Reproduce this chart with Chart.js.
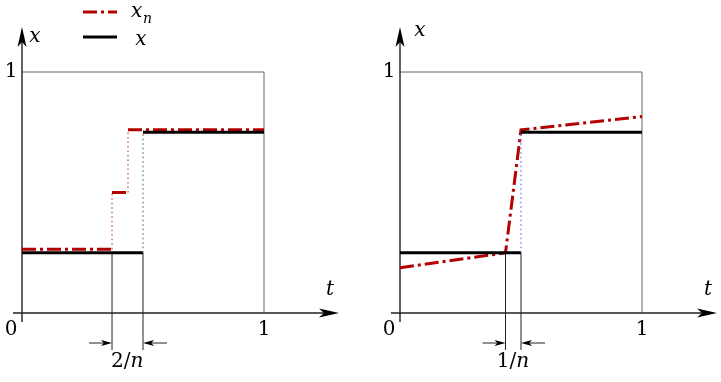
<!DOCTYPE html>
<html>
<head>
<meta charset="utf-8">
<script src="https://cdn.jsdelivr.net/npm/chart.js@4"></script>
<style>
  body { margin: 0; background: #fff; }
  .wrap { display: flex; width: 721px; height: 382px; }
  canvas { display: block; }
</style>
</head>
<body>
<div class="wrap">
  <canvas id="left" width="360" height="382"></canvas>
  <canvas id="right" width="361" height="382"></canvas>
</div>
<script>
// limit function x: step from 1/4 to 3/4 at t = 1/2
var limitT = [0, 0.5, 0.5, 1];
var limitX = [0.25, 0.25, 0.75, 0.75];

// left panel: piecewise constant x_n
var leftStepT = [0, 0.372, 0.438, 1];
var leftStepX = [0.265, 0.5, 0.76];

// right panel: piecewise linear x_n
var rightT = [0, 0.436, 0.5, 1];
var rightX = [0.188, 0.25, 0.76, 0.815];

// bracket marks under the axis
var leftMarks = [0.372, 0.5];
var rightMarks = [0.436, 0.5];
var leftMarkLabel = ["2/", "n"];
var rightMarkLabel = ["1/", "n"];

var red = "#b30000";
var serif = "'DejaVu Serif'";

function pts(ts, xs) {
    return ts.map(function(t, i) { return {x: t, y: xs[i]}; });
}

function lineSet(data, color, width, dash) {
    return {
        data: data,
        showLine: true,
        borderColor: color,
        borderWidth: width,
        borderDash: dash || [],
        pointRadius: 0,
        tension: 0,
        fill: false
    };
}

function arrowHead(ctx, x, y, dir, len, half) {
    ctx.beginPath();
    if (dir === "right") {
        ctx.moveTo(x, y);
        ctx.lineTo(x - len, y - half);
        ctx.lineTo(x - len * 0.75, y);
        ctx.lineTo(x - len, y + half);
    } else if (dir === "left") {
        ctx.moveTo(x, y);
        ctx.lineTo(x + len, y - half);
        ctx.lineTo(x + len * 0.75, y);
        ctx.lineTo(x + len, y + half);
    } else {
        ctx.moveTo(x, y);
        ctx.lineTo(x - half, y + len);
        ctx.lineTo(x, y + len * 0.75);
        ctx.lineTo(x + half, y + len);
    }
    ctx.closePath();
    ctx.fill();
}

// axes, frame, labels and dimension arrows
function framePlugin(marks, markLabel, showLegend) {
    return {
        id: "frame",
        beforeDatasetsDraw: function(chart) {
            var ctx = chart.ctx;
            var sx = chart.scales.x, sy = chart.scales.y;
            var x0 = sx.getPixelForValue(0), x1 = sx.getPixelForValue(1);
            var y0 = sy.getPixelForValue(0), y1 = sy.getPixelForValue(1);
            ctx.save();
            // thin frame at 1
            ctx.strokeStyle = "#666";
            ctx.lineWidth = 1;
            ctx.beginPath();
            ctx.moveTo(x0, y1); ctx.lineTo(x1, y1); ctx.lineTo(x1, y0);
            ctx.stroke();
            // axes
            ctx.strokeStyle = "#222";
            ctx.fillStyle = "#000";
            ctx.lineWidth = 1.4;
            ctx.beginPath();
            ctx.moveTo(x0 - 9, y0); ctx.lineTo(x0 + 310, y0);
            ctx.moveTo(x0, y0 + 9); ctx.lineTo(x0, 34);
            ctx.stroke();
            arrowHead(ctx, x0 + 317, y0, "right", 20, 4.5);
            arrowHead(ctx, x0, 27, "up", 20, 4.5);
            // marks down to the dimension arrows
            ctx.strokeStyle = "#222";
            ctx.lineWidth = 1;
            var my = sy.getPixelForValue(limitX[0]);
            var ma = sx.getPixelForValue(marks[0]), mb = sx.getPixelForValue(marks[1]);
            ctx.beginPath();
            ctx.moveTo(ma, my); ctx.lineTo(ma, y0 + 37);
            ctx.moveTo(mb, my); ctx.lineTo(mb, y0 + 37);
            ctx.moveTo(ma - 23, y0 + 30); ctx.lineTo(ma - 4, y0 + 30);
            ctx.moveTo(mb + 24, y0 + 30); ctx.lineTo(mb + 4, y0 + 30);
            ctx.stroke();
            arrowHead(ctx, ma, y0 + 30, "right", 11, 3);
            arrowHead(ctx, mb, y0 + 30, "left", 11, 3);
            // text
            ctx.fillStyle = "#000";
            ctx.textAlign = "center";
            ctx.textBaseline = "middle";
            ctx.font = "20px " + serif;
            ctx.fillText("0", x0 - 11, y0 + 17);
            ctx.fillText("1", x1, y0 + 17);
            ctx.fillText("1", x0 - 11, y1);
            var mid = (ma + mb) / 2;
            ctx.textAlign = "right";
            ctx.fillText(markLabel[0], mid + 3, y0 + 49);
            ctx.textAlign = "left";
            ctx.font = "italic 20px " + serif;
            ctx.fillText(markLabel[1], mid + 3, y0 + 49);
            ctx.textAlign = "center";
            ctx.fillText("t", x0 + 308, y0 - 23);
            ctx.fillText("x", showLegend ? x0 + 13 : x0 + 20, showLegend ? 37 : 31);
            if (showLegend) {
                ctx.fillText("x", 141, 40);
                ctx.textAlign = "left";
                ctx.fillText("x", 131, 12);
                ctx.font = "italic 14px " + serif;
                ctx.fillText("n", 143, 19);
                ctx.lineWidth = 3;
                ctx.strokeStyle = red;
                ctx.setLineDash([14, 4, 3, 4]);
                ctx.beginPath();
                ctx.moveTo(83, 12); ctx.lineTo(117, 12);
                ctx.stroke();
                ctx.setLineDash([]);
                ctx.strokeStyle = "#000";
                ctx.beginPath();
                ctx.moveTo(83, 37); ctx.lineTo(117, 37);
                ctx.stroke();
            }
            ctx.restore();
        }
    };
}

function makeOptions(xmin, width) {
    return {
        responsive: false,
        animation: false,
        clip: false,
        layout: {padding: 0},
        plugins: {legend: {display: false}, tooltip: {enabled: false}},
        scales: {
            x: {type: "linear", display: false, min: xmin, max: xmin + width / 242},
            y: {type: "linear", display: false, min: 1.2988 - 382 / 241, max: 1.2988}
        }
    };
}

var dash = [14, 4, 3, 4];

// left panel datasets
var leftSets = [];
leftSets.push(lineSet([{x: limitT[1], y: limitX[1]}, {x: limitT[2], y: limitX[2]}], "#666", 1.2, [1.5, 3]));
leftSets.push(lineSet([{x: leftStepT[1], y: leftStepX[0]}, {x: leftStepT[1], y: leftStepX[1]}], "#d04040", 1.2, [1.5, 3]));
leftSets.push(lineSet([{x: leftStepT[2], y: leftStepX[1]}, {x: leftStepT[2], y: leftStepX[2]}], "#d04040", 1.2, [1.5, 3]));
leftSets.push(lineSet([{x: limitT[0], y: limitX[0]}, {x: limitT[1], y: limitX[1]}], "#000", 3));
leftSets.push(lineSet([{x: limitT[2], y: limitX[2]}, {x: limitT[3], y: limitX[3]}], "#000", 3));
for (var i = 0; i < leftStepX.length; i++) {
    leftSets.push(lineSet([{x: leftStepT[i], y: leftStepX[i]}, {x: leftStepT[i + 1], y: leftStepX[i]}], red, 3, dash));
}

var rightSets = [];
rightSets.push(lineSet([{x: limitT[1], y: limitX[1]}, {x: limitT[2], y: limitX[2]}], "#6a6aff", 1.2, [1.5, 3]));
rightSets.push(lineSet([{x: limitT[0], y: limitX[0]}, {x: limitT[1], y: limitX[1]}], "#000", 3));
rightSets.push(lineSet([{x: limitT[2], y: limitX[2]}, {x: limitT[3], y: limitX[3]}], "#000", 3));
rightSets.push(lineSet(pts(rightT, rightX), red, 3, dash));

new Chart(document.getElementById("left"), {
    type: "scatter",
    data: {datasets: leftSets},
    options: makeOptions(-22 / 242, 360),
    plugins: [framePlugin(leftMarks, leftMarkLabel, true)]
});

new Chart(document.getElementById("right"), {
    type: "scatter",
    data: {datasets: rightSets},
    options: makeOptions(-40 / 242, 361),
    plugins: [framePlugin(rightMarks, rightMarkLabel, false)]
});
</script>
</body>
</html>
